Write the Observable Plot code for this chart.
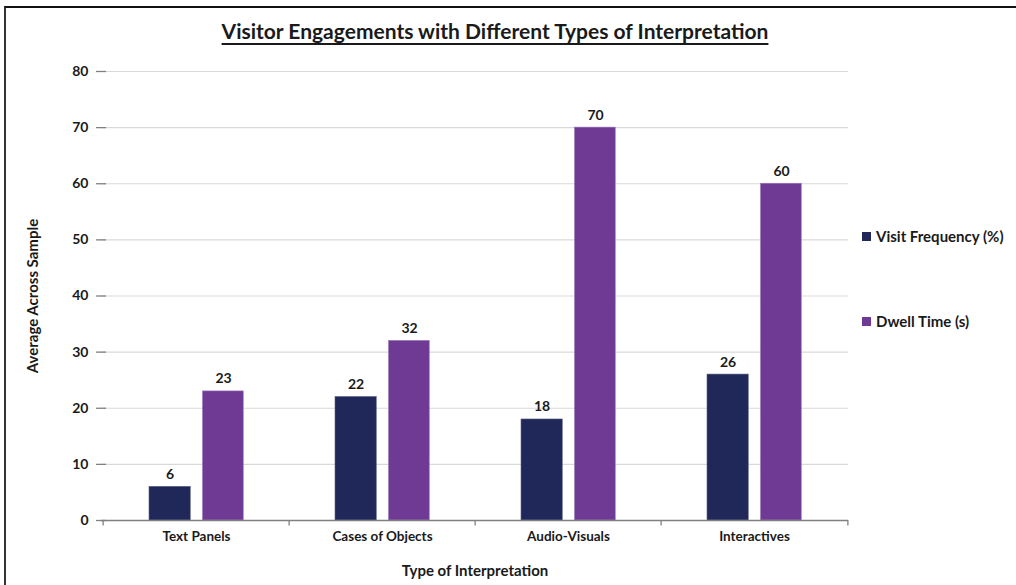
<!DOCTYPE html>
<html>
<head>
<meta charset="utf-8">
<script src="https://cdn.jsdelivr.net/npm/d3@7"></script>
<script src="https://cdn.jsdelivr.net/npm/@observablehq/plot@0.6"></script>
<style>
  html, body { margin: 0; padding: 0; background: #fff; }
  #wrap { position: relative; width: 1016px; height: 585px; overflow: hidden; font-family: Lato, "Open Sans", sans-serif; font-weight: bold; color: #1a1a1a; }
  #border { position: absolute; left: 4px; top: 6px; width: 1100px; height: 700px; border-top: 2px solid #111; border-left: 2px solid #333; }
  #title { position: absolute; left: 0; width: 990px; top: 18px; text-align: center; font-size: 21px; text-decoration: underline; text-underline-offset: 4px; text-decoration-thickness: 1.5px; }
  #chart { position: absolute; left: 0; top: 0; }
  .leg { position: absolute; left: 862px; font-size: 15px; display: flex; align-items: center; white-space: nowrap; }
  .sw { width: 9px; height: 9px; margin-right: 5px; display: inline-block; }
</style>
</head>
<body>
<div id="wrap">
  <div id="border"></div>
  <div id="chart"></div>
  <div id="title">Visitor Engagements with Different Types of Interpretation</div>
  <div class="leg" style="top:227px"><span class="sw" style="background:#1f2858"></span>Visit Frequency (%)</div>
  <div class="leg" style="top:312px"><span class="sw" style="background:#6f3a94"></span>Dwell Time (s)</div>
</div>
<script>
const categories = ["Text Panels", "Cases of Objects", "Audio-Visuals", "Interactives"];
const visitFrequency = [6, 22, 18, 26];
const dwellTime = [23, 32, 70, 60];
const yTicks = [0, 10, 20, 30, 40, 50, 60, 70, 80];

const visitRows = categories.map((c, i) => ({category: c, value: visitFrequency[i]}));
const dwellRows = categories.map((c, i) => ({category: c, value: dwellTime[i]}));

const navy = "#1f2858";
const purple = "#6f3a94";
const half = 747 / 8; // half band width in px

const chart = Plot.plot({
  width: 1016,
  height: 585,
  marginLeft: 101,
  marginRight: 168,
  marginTop: 71,
  marginBottom: 65,
  style: {fontFamily: "Lato, 'Open Sans', sans-serif", fontWeight: "bold", color: "#1a1a1a", background: "transparent"},
  x: {domain: categories, padding: 0},
  y: {domain: [0, 80]},
  marks: [
    Plot.gridY(yTicks, {stroke: "#d9d9d9", strokeOpacity: 1, strokeWidth: 1.2}),
    Plot.barY(visitRows, {x: "category", y: "value", fill: navy, stroke: "#5a6088", strokeWidth: 0.6, insetLeft: 46, insetRight: 98.75}),
    Plot.barY(dwellRows, {x: "category", y: "value", fill: purple, stroke: "#9a78b8", strokeWidth: 0.6, insetLeft: 99.5, insetRight: 45.75}),
    Plot.text(visitRows, {x: "category", y: "value", text: d => String(d.value), dx: -26.4, dy: -8, lineAnchor: "bottom", fontSize: 14, fontWeight: "bold", fill: "#1a1a1a"}),
    Plot.text(dwellRows, {x: "category", y: "value", text: d => String(d.value), dx: 27, dy: -8, lineAnchor: "bottom", fontSize: 14, fontWeight: "bold", fill: "#1a1a1a"}),
    Plot.ruleY([0], {stroke: "#808080", strokeWidth: 1.5}),
    Plot.ruleX(categories, {x: d => d, y1: 0, y2: -1, dx: -half, stroke: "#808080", strokeWidth: 1.3}),
    Plot.ruleX(categories.slice(-1), {x: d => d, y1: 0, y2: -1, dx: half, stroke: "#808080", strokeWidth: 1.3}),
    Plot.axisY(yTicks, {tickSize: 10, dx: 5, tickPadding: 8, stroke: "#808080", strokeWidth: 1.3, fontSize: 14, fill: "#1a1a1a",
      label: "Average Across Sample", labelAnchor: "center", labelArrow: "none", labelOffset: 74}),
    Plot.ruleX([0], {frameAnchor: "left", y1: 0, y2: 80, stroke: "#808080", strokeWidth: 1.5}),
    Plot.axisX({tickSize: 0, tickPadding: 11, fontSize: 13.5, fill: "#1a1a1a",
      label: "Type of Interpretation", labelAnchor: "center", labelArrow: "none", labelOffset: 55})
  ]
});
chart.querySelectorAll("[aria-label='y-axis label'] text, [aria-label='x-axis label'] text").forEach(t => t.setAttribute("font-size", "15"));
document.getElementById("chart").appendChild(chart);
</script>
</body>
</html>
